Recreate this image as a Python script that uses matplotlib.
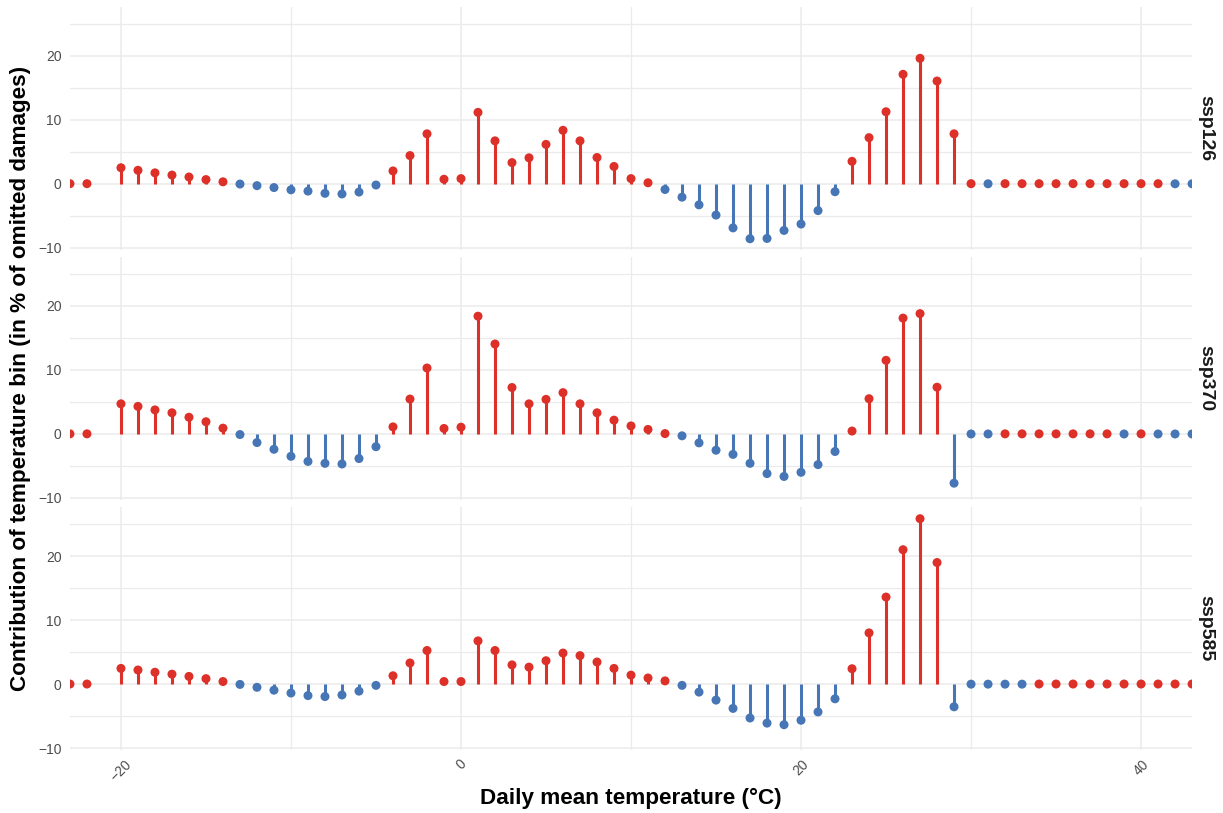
import numpy as np
import matplotlib
matplotlib.use("Agg")
from matplotlib import pyplot as plt
from matplotlib.ticker import MultipleLocator

plt.rcParams['font.family'] = ['Liberation Sans', 'DejaVu Sans']

# temperature bins (degrees C), -21 has no value in the source figure
temps = list(range(-23, 44))

# contribution of each bin, in % of omitted damages (tiny +/- values are the zero dots)
ssp126 = [0.01, 0.01, np.nan, 2.5, 2.1, 1.7, 1.35, 1.05, 0.65, 0.3,
          -0.05, -0.3, -0.6, -0.95, -1.15, -1.5, -1.6, -1.3, -0.2, 2.0,
          4.4, 7.8, 0.7, 0.8, 11.15, 6.7, 3.3, 4.05, 6.15, 8.35,
          6.7, 4.1, 2.7, 0.8, 0.15, -0.9, -2.1, -3.3, -4.9, -6.9,
          -8.6, -8.55, -7.3, -6.3, -4.2, -1.25, 3.5, 7.2, 11.25, 17.1,
          19.6, 16.05, 7.8, 0.01, -0.01, 0.01, 0.01, 0.01, 0.01, 0.01,
          0.01, 0.01, 0.01, 0.01, 0.01, -0.01, -0.01]

ssp370 = [0.01, 0.01, np.nan, 4.7, 4.3, 3.75, 3.3, 2.6, 1.9, 0.9,
          -0.1, -1.35, -2.4, -3.5, -4.3, -4.6, -4.7, -3.85, -2.0, 1.1,
          5.45, 10.3, 0.85, 1.05, 18.4, 14.05, 7.25, 4.7, 5.4, 6.45,
          4.7, 3.3, 2.15, 1.25, 0.7, 0.05, -0.3, -1.4, -2.55, -3.2,
          -4.6, -6.2, -6.65, -6.0, -4.8, -2.75, 0.45, 5.5, 11.5, 18.1,
          18.8, 7.3, -7.7, -0.01, -0.01, 0.01, 0.01, 0.01, 0.01, 0.01,
          0.01, 0.01, -0.01, 0.01, -0.01, -0.01, -0.01]

ssp585 = [0.01, 0.01, np.nan, 2.45, 2.2, 1.85, 1.55, 1.2, 0.85, 0.4,
          -0.05, -0.5, -0.95, -1.4, -1.8, -1.95, -1.7, -1.1, -0.2, 1.3,
          3.3, 5.25, 0.4, 0.4, 6.75, 5.25, 3.0, 2.65, 3.65, 4.85,
          4.45, 3.45, 2.45, 1.4, 0.95, 0.5, -0.2, -1.25, -2.5, -3.8,
          -5.3, -6.1, -6.35, -5.65, -4.35, -2.3, 2.4, 8.0, 13.6, 21.0,
          25.85, 19.0, -3.55, -0.01, -0.01, -0.01, -0.01, 0.01, 0.01, 0.01,
          0.01, 0.01, 0.01, 0.01, 0.01, 0.01, 0.01]

scenarios = ["ssp126", "ssp370", "ssp585"]
series = [ssp126, ssp370, ssp585]

red = "#DC3028"
blue = "#4676B6"
grid_col = "#EBEBEB"

fig, axes = plt.subplots(3, 1, figsize=(12.23, 8.13), dpi=100, sharex=True, sharey=True)
fig.subplots_adjust(left=0.0572, right=0.9747, top=0.992, bottom=0.0775, hspace=0.029)

x = np.array(temps, dtype=float)
for ax, name, vals in zip(axes, scenarios, series):
    y = np.array(vals, dtype=float)
    ok = ~np.isnan(y)
    cols = np.where(y[ok] > 0, red, blue)
    # stems
    ax.vlines(x[ok], 0, y[ok], colors=cols, linewidth=2.2, zorder=3)
    # heads
    ax.scatter(x[ok], y[ok], c=cols, s=42, linewidths=0, zorder=4, clip_on=True)

    ax.set_xlim(-23, 43)
    ax.set_ylim(-10.3, 27.7)
    ax.xaxis.set_major_locator(MultipleLocator(20))
    ax.xaxis.set_minor_locator(MultipleLocator(10))
    ax.yaxis.set_major_locator(MultipleLocator(10))
    ax.yaxis.set_minor_locator(MultipleLocator(5))
    ax.grid(which='major', color=grid_col, linewidth=1.1, zorder=0)
    ax.grid(which='minor', color=grid_col, linewidth=0.9, zorder=0)
    ax.set_axisbelow(True)
    for s in ax.spines.values():
        s.set_visible(False)
    ax.tick_params(which='both', length=0, labelsize=10, labelcolor='#4D4D4D', pad=6)

    # facet strip on the right
    ax.text(1.005, 0.5, name, transform=ax.transAxes, rotation=270,
            ha='left', va='center', fontsize=14, fontweight='bold', color='#1A1A1A')

axes[-1].tick_params(axis='x', pad=5)
for lab in axes[-1].get_xticklabels():
    lab.set_rotation(45)
    lab.set_ha('center')
    lab.set_va('top')

fig.text(0.017, 0.535, "Contribution of temperature bin (in % of omitted damages)",
         rotation=90, ha='center', va='center', fontsize=16.2, fontweight='bold')
fig.text(0.516, 0.018, "Daily mean temperature (°C)", ha='center', va='center',
         fontsize=16.2, fontweight='bold')

fig.savefig("out.png", dpi=100)
